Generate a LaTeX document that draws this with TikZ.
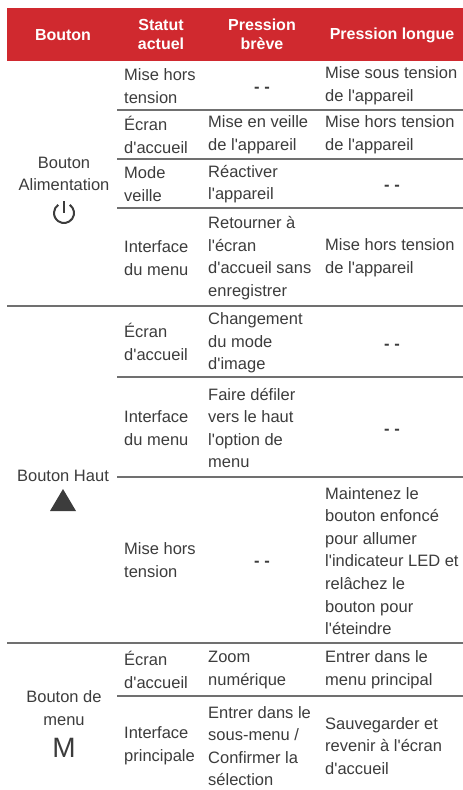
\documentclass[tikz,border=0pt]{standalone}
\usepackage{fontspec}
\setmainfont{Liberation Sans}[Ligatures=TeXOff]
\usetikzlibrary{positioning, calc}

\definecolor{headred}{HTML}{D0292F}
\definecolor{txtgray}{HTML}{3C3C3C}
\definecolor{rulegray}{HTML}{707070}

\begin{document}
\begin{tikzpicture}[x=1pt, y=-1pt,
    cell/.style={anchor=west, align=left, inner sep=0pt, text=txtgray,
      font=\fontsize{16.5}{22.6}\selectfont},
    mid/.style={cell, anchor=center, align=center},
    nada/.style={mid, font=\fontsize{16.5}{22.6}\selectfont\bfseries},
    head/.style={anchor=center, align=center, inner sep=0pt, text=white,
      font=\fontsize{16}{19}\selectfont\bfseries},
    rule/.style={draw=rulegray, line width=1.3pt}]
                  \useasboundingbox (0,0) rectangle (463,790);

                  % Header
                  \fill[headred] (7,8) rectangle (463,61);
                  \node[head] (hbtn) at (63,35) {Bouton};
                  \node[head] (hstat) at (161,34) {Statut\\actuel};
                  \node[head] (hshort) at (262,34) {Pression\\brève};
                  \node[head] (hlong) at (392,35) {Pression longue};

                  % Rules
                  \foreach \y in {110,159,208,377,477,696}
                  \draw[rule] (117,\y) -- (463,\y);
                  \foreach \y in {306,643}
                  \draw[rule] (7,\y) -- (463,\y);

                  % Bouton Alimentation
                  \node[mid] (power) at (64,174) {Bouton\\Alimentation};
                  \coordinate (picon) at (64,213);
                  \draw[txtgray, line width=2pt] (picon) ++(-55:10) arc[start angle=-55, end angle=235, radius=10];
                  \draw[txtgray, line width=2pt] (picon) ++(0,-12) -- (picon);

                  \node[cell] (a1s) at (124,86) {Mise hors\\tension};
                  \node[nada] (a1b) at (262,90) {- -};
                  \node[cell] (a1l) at (325,86) {Mise sous tension\\de l'appareil};

                  \node[cell] (a2s) at (124,135) {Écran\\d'accueil};
                  \node[cell] (a2b) at (208,135) {Mise en veille\\de l'appareil};
                  \node[cell] (a2l) at (325,135) {Mise hors tension\\de l'appareil};

                  \node[cell] (a3s) at (124,184) {Mode\\veille};
                  \node[cell] (a3b) at (208,184) {Réactiver\\l'appareil};
                  \node[nada] (a3l) at (392,188) {- -};

                  \node[cell] (a4s) at (124,258) {Interface\\du menu};
                  \node[cell] (a4b) at (208,258) {Retourner à\\l'écran\\d'accueil sans\\enregistrer};
                  \node[cell] (a4l) at (325,258) {Mise hors tension\\de l'appareil};

                  % Bouton Haut
                  \node[mid] (up) at (63,476) {Bouton Haut};
                  \fill[txtgray] (50,511) -- (76,511) -- (63,489) -- cycle;

                  \node[cell] (h1s) at (124,342) {Écran\\d'accueil};
                  \node[cell] (h1b) at (208,343) {Changement\\du mode\\d'image};
                  \node[nada] (h1l) at (392,347) {- -};

                  \node[cell] (h2s) at (124,428) {Interface\\du menu};
                  \node[cell] (h2b) at (208,428) {Faire défiler\\vers le haut\\l'option de\\menu};
                  \node[nada] (h2l) at (392,432) {- -};

                  \node[cell] (h3s) at (124,560) {Mise hors\\tension};
                  \node[nada] (h3b) at (262,564) {- -};
                  \node[cell] (h3l) at (325,561) {Maintenez le\\bouton enfoncé\\pour allumer\\l'indicateur LED et\\relâchez le\\bouton pour\\l'éteindre};

                  % Bouton de menu
                  \node[mid] (menu) at (64,708) {Bouton de\\menu};
                  \node[mid, font=\fontsize{28}{28}\selectfont] (mkey) at (64,748) {M};

                  \node[cell] (m1s) at (124,670) {Écran\\d'accueil};
                  \node[cell] (m1b) at (208,670) {Zoom\\numérique};
                  \node[cell] (m1l) at (325,670) {Entrer dans le\\menu principal};

                  \node[cell] (m2s) at (124,746) {Interface\\principale};
                  \node[cell] (m2b) at (208,746) {Entrer dans le\\sous-menu /\\Confirmer la\\sélection};
                  \node[cell] (m2l) at (325,746) {Sauvegarder et\\revenir à l'écran\\d'accueil};
              \end{tikzpicture}
\end{document}
